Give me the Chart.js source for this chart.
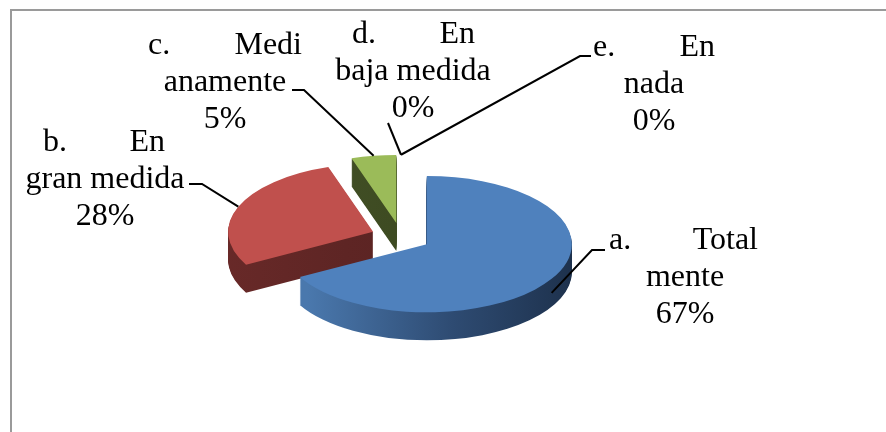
<!DOCTYPE html>
<html>
<head>
<meta charset="utf-8">
<script src="https://cdn.jsdelivr.net/npm/chart.js@4.4.1/dist/chart.umd.min.js"></script>
<style>
    html, body { margin: 0; padding: 0; background: #fff; }
    #wrap { width: 886px; height: 432px; }
</style>
</head>
<body>
<div id="wrap"><canvas id="pieChart" width="886" height="432"></canvas></div>
<script>
const categories = ['a. Totalmente', 'b. En gran medida', 'c. Medianamente', 'd. En baja medida', 'e. En nada'];
const percentages = [67, 28, 5, 0, 0];
const sliceColors = ['#4F81BD', '#C0504D', '#9BBB59', '#8064A2', '#4BACC6'];
// label text as it wraps in the picture: [prefix, first word, second line]
const labelLines = [
    ['a.', 'Total', 'mente'],
    ['b.', 'En', 'gran medida'],
    ['c.', 'Medi', 'anamente'],
    ['d.', 'En', 'baja medida'],
    ['e.', 'En', 'nada']
];

// side wall shades (left -> right)
const sideShades = [
    ['#4a78ad', '#2e4b72', '#1a2c45'],
    ['#6a2a29', '#5e2524', '#582221'],
    ['#44532a', '#3e4b22', '#3a4620']
];

const TILT = 0.47;      // vertical squash of the pie
const EXPLODE = 30;     // slice separation
const DEPTH = 28;       // thickness of the pie in px

function placeSlice(ctx, p, drop) {
    const mid = (p.startAngle + p.endAngle) / 2;
    ctx.translate(0, p.y + drop);
    ctx.scale(1, TILT);
    ctx.translate(Math.cos(mid) * EXPLODE, Math.sin(mid) * EXPLODE - p.y);
}

const pie3d = {
    id: 'pie3d',
    beforeDraw(chart) {
        const ctx = chart.ctx;
        ctx.save();
        ctx.strokeStyle = '#9a9a9a';
        ctx.lineWidth = 2;
        ctx.beginPath();
        ctx.moveTo(11, 432);
        ctx.lineTo(11, 10);
        ctx.lineTo(886, 10);
        ctx.stroke();
        ctx.restore();
    },
    beforeDatasetsDraw(chart) {
        const ctx = chart.ctx;
        const meta = chart.getDatasetMeta(0);
        // back to front
        [2, 1, 0].forEach(i => {
            const arc = meta.data[i];
            const p = arc.getProps(['x', 'y', 'startAngle', 'endAngle', 'outerRadius', 'circumference']);
            if (!p.circumference) return;
            const mid = (p.startAngle + p.endAngle) / 2;
            const cx = p.x + Math.cos(mid) * EXPLODE;
            const grad = ctx.createLinearGradient(cx - p.outerRadius, 0, cx + p.outerRadius, 0);
            grad.addColorStop(0, sideShades[i][0]);
            grad.addColorStop(0.5, sideShades[i][1]);
            grad.addColorStop(1, sideShades[i][2]);
            for (let d = DEPTH; d > 0; d--) {
                ctx.save();
                placeSlice(ctx, p, d);
                ctx.beginPath();
                ctx.moveTo(p.x, p.y);
                ctx.arc(p.x, p.y, p.outerRadius, p.startAngle, p.endAngle);
                ctx.closePath();
                ctx.fillStyle = grad;
                ctx.fill();
                ctx.restore();
            }
            ctx.save();
            placeSlice(ctx, p, 0);
            arc.draw(ctx);
            ctx.restore();
        });
        return false;
    },
    afterDraw(chart, args, opts) {
        const ctx = chart.ctx;
        const meta = chart.getDatasetMeta(0);
        ctx.save();
        ctx.font = '32px "Liberation Serif", "Times New Roman", serif';
        ctx.fillStyle = '#000';
        ctx.strokeStyle = '#000';
        ctx.lineWidth = 2;
        opts.labels.forEach((lay, i) => {
            const lines = labelLines[i];
            ctx.textAlign = 'left';
            ctx.fillText(lines[0], lay.x1, lay.y);
            ctx.textAlign = 'right';
            ctx.fillText(lines[1], lay.x2, lay.y);
            ctx.textAlign = 'center';
            ctx.fillText(lines[2], lay.cx, lay.y + opts.lineStep);
            ctx.fillText(percentages[i] + '%', lay.cx, lay.y + 2 * opts.lineStep);

            // leader line from the slice edge to the label
            const p = meta.data[i].getProps(['x', 'y', 'startAngle', 'endAngle', 'outerRadius']);
            const mid = (p.startAngle + p.endAngle) / 2;
            const reach = EXPLODE + p.outerRadius;
            let ax = p.x + Math.cos(mid) * reach;
            let ay = p.y + Math.sin(mid) * reach * TILT;
            if (Math.sin(mid) > 0.3) ay += DEPTH / 2;
            ctx.beginPath();
            ctx.moveTo(ax, ay);
            ctx.lineTo(lay.elbow[0], lay.elbow[1]);
            ctx.lineTo(lay.tail[0], lay.tail[1]);
            ctx.stroke();
        });
        ctx.restore();
    }
};

new Chart(document.getElementById('pieChart'), {
    type: 'pie',
    data: {
        labels: categories,
        datasets: [{
            data: percentages,
            backgroundColor: sliceColors,
            borderWidth: 0,
            radius: 145
        }]
    },
    options: {
        responsive: false,
        animation: false,
        events: [],
        layout: { padding: { left: 0, right: 84, top: 42, bottom: 0 } },
        plugins: {
            legend: { display: false },
            tooltip: { enabled: false },
            pie3d: {
                lineStep: 37,
                labels: [
                    { x1: 609, x2: 758, cx: 685, y: 249, elbow: [592, 250], tail: [605, 250] },
                    { x1: 43, x2: 165, cx: 105, y: 151, elbow: [202, 184], tail: [189, 184] },
                    { x1: 148, x2: 302, cx: 225, y: 54, elbow: [304, 90], tail: [292, 90] },
                    { x1: 352, x2: 475, cx: 413, y: 43, elbow: [388, 123], tail: [388, 123] },
                    { x1: 593, x2: 715, cx: 654, y: 56, elbow: [580, 56], tail: [591, 56] }
                ]
            }
        }
    },
    plugins: [pie3d]
});
</script>
</body>
</html>
